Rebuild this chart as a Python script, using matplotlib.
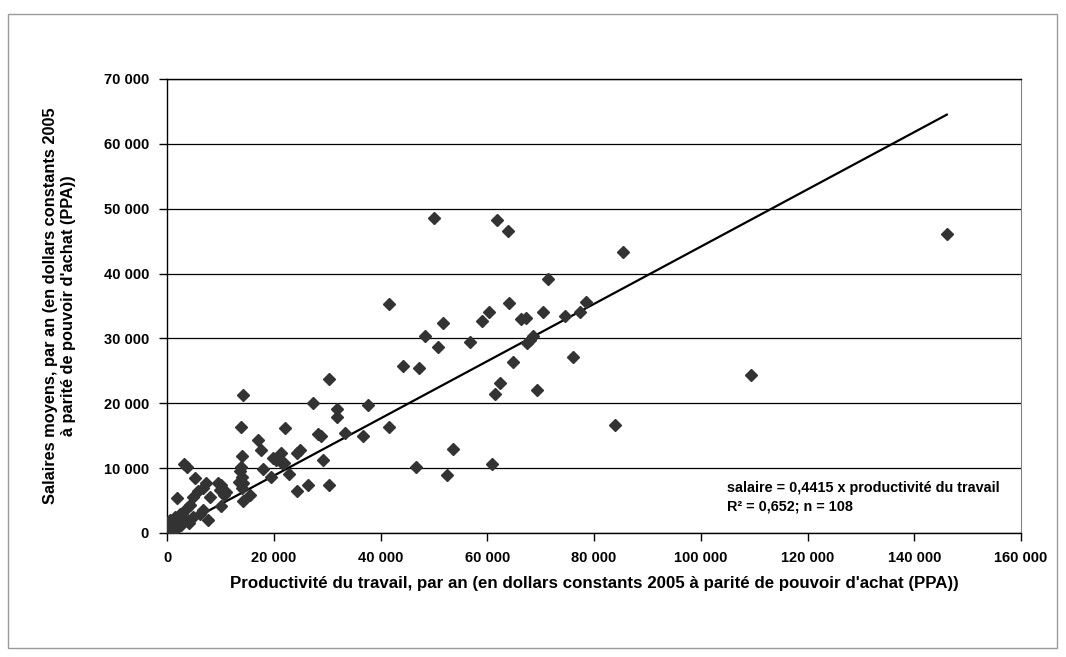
import matplotlib.pyplot as plt
import matplotlib.ticker as mticker
from matplotlib.patches import Rectangle

# productivity (x) and wages (y), constant 2005 PPP dollars
productivite = [146100, 109500, 85400, 83900, 78500, 77300, 76100, 74500, 71300, 70500,
                69400, 68600, 68000, 67400, 67300, 66300, 64900, 64000, 63800, 62300,
                61800, 61500, 60800, 60300, 59000, 56800, 53500, 52400, 51800, 50800,
                50000, 48300, 47200, 46700, 44200, 41500, 41600, 37700, 36800, 33300,
                31900, 31800, 30400, 30400, 29300, 28300, 28800, 27300, 26500, 24900,
                24400, 24300, 22900, 22000, 22100, 21400, 21500, 20500, 19900, 19400,
                18000, 17600, 17100, 15600, 14300, 14200, 13900, 14000, 13800, 13700,
                14000, 13400, 14300, 14000, 10600, 10200, 10200, 9900, 9600, 8100,
                7700, 7400, 6800, 6800, 6200, 5900, 5200, 4900, 4900, 4300,
                3700, 3700, 3200, 3700, 3100, 2400, 2100, 1800, 1500, 1200,
                900, 600, 300, 2700, 1600, 500, 4200, 11000]
salaires = [46100, 24400, 43400, 16600, 35600, 34000, 27200, 33500, 39200, 34000,
            22000, 30300, 29800, 29300, 33100, 33000, 26300, 35400, 46600, 23200,
            48300, 21500, 10600, 34100, 32700, 29400, 13000, 9000, 32400, 28700,
            48600, 30400, 25400, 10100, 25700, 35300, 16300, 19800, 15000, 15400,
            19100, 17900, 23700, 7400, 11300, 15300, 15000, 20000, 7400, 12800,
            12300, 6500, 9100, 10800, 16200, 12300, 10800, 11300, 11500, 8700,
            9900, 12800, 14400, 5900, 5000, 21300, 16400, 11800, 10200, 9500,
            8700, 7900, 7700, 6900, 5900, 7400, 4100, 6600, 7700, 5600,
            2000, 7700, 6900, 3500, 3000, 6400, 8500, 5600, 2500, 4300,
            3800, 2000, 10600, 10200, 2500, 3000, 1500, 5400, 2500, 1500,
            700, 2000, 1000, 1200, 600, 300, 1600, 6300]

pente = 0.4415
x_tendance = [0, max(productivite)]
y_tendance = [pente * v for v in x_tendance]

x_ticks = list(range(0, 160001, 20000))
y_ticks = list(range(0, 70001, 10000))

plt.rcParams['font.family'] = ['Liberation Sans', 'DejaVu Sans']
plt.rcParams['font.weight'] = 'bold'

fig = plt.figure(figsize=(10.66, 6.57), dpi=100)
fig.patches.append(Rectangle((8 / 1066, 1 - 648 / 657), 1049 / 1066, 634 / 657,
                             transform=fig.transFigure, fill=False,
                             edgecolor='#9a9a9a', linewidth=1))
ax = fig.add_axes([167 / 1066, 1 - 533 / 657, 854 / 1066, 454 / 657])

ax.set_xlim(0, 160000)
ax.set_ylim(0, 70000)
ax.set_xticks(x_ticks)
ax.set_yticks(y_ticks)
fmt = mticker.FuncFormatter(lambda v, p: f"{int(v):,}".replace(",", " "))
ax.xaxis.set_major_formatter(fmt)
ax.yaxis.set_major_formatter(fmt)

ax.yaxis.grid(True, color='black', linewidth=0.9)
ax.set_axisbelow(True)
for s in ['left', 'bottom', 'top']:
    ax.spines[s].set_color('black')
    ax.spines[s].set_linewidth(1)
ax.spines['right'].set_color('#808080')
ax.tick_params(direction='out', length=6, width=1, labelsize=10.5, pad=7)

ax.plot(x_tendance, y_tendance, color='black', linewidth=1.6, zorder=2)
ax.plot(productivite, salaires, linestyle='none', marker='D', markersize=6,
        color='#333333', zorder=3)

ax.set_xlabel("Productivité du travail, par an (en dollars constants 2005 à parité de pouvoir d'achat (PPA))",
              fontsize=12.2, fontweight='bold', labelpad=8)
ax.set_ylabel("Salaires moyens, par an (en dollars constants 2005\nà parité de pouvoir d'achat (PPA))",
              fontsize=11.8, fontweight='bold', labelpad=20)

ax.text(0.656, 0.099, "salaire = 0,4415 x productivité du travail", transform=ax.transAxes,
        fontsize=10.4, fontweight='bold', va='center')
ax.text(0.656, 0.059, "R² = 0,652; n = 108", transform=ax.transAxes,
        fontsize=10.4, fontweight='bold', va='center')

fig.savefig('out.png', dpi=100)
